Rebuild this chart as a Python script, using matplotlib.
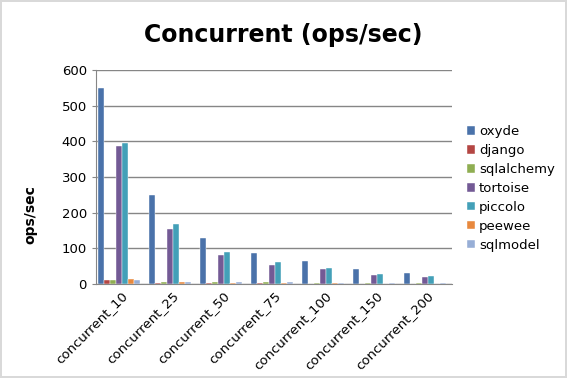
import matplotlib
matplotlib.use("Agg")
import matplotlib.pyplot as plt
import numpy as np

categories = ["concurrent_10", "concurrent_25", "concurrent_50", "concurrent_75",
              "concurrent_100", "concurrent_150", "concurrent_200"]
series_names = ["oxyde", "django", "sqlalchemy", "tortoise", "piccolo", "peewee", "sqlmodel"]
oxyde = [550, 250, 128, 86, 65, 43, 31]
django = [10, 3, 2, 2, 1, 1, 1]
sqlalchemy = [11, 4, 4, 4, 3, 2, 2]
tortoise = [388, 155, 80, 54, 41, 26, 20]
piccolo = [396, 168, 90, 60, 45, 28, 22]
peewee = [15, 5, 3, 3, 2, 1, 1]
sqlmodel = [10, 5, 4, 4, 3, 2, 2]
values = [oxyde, django, sqlalchemy, tortoise, piccolo, peewee, sqlmodel]
colors = ["#4A72AA", "#B44643", "#8FAE52", "#735A95", "#43A0B8", "#E8893E", "#97AED6"]

fig = plt.figure(figsize=(5.67, 3.78), dpi=100)
fig.patch.set_edgecolor("#D9D9D9")
fig.patch.set_linewidth(1.5)
ax = fig.add_axes([0.169, 0.249, 0.628, 0.566])

n = len(series_names)
x = np.arange(len(categories))
bw = 0.118
for i, (name, vals, c) in enumerate(zip(series_names, values, colors)):
    ax.bar(x - 0.5 + 0.05 + bw * (i + 0.5), vals, width=bw, color=c, label=name,
           edgecolor="white", linewidth=0.3)

ax.set_xlim(-0.5, len(categories) - 0.5)
ax.set_ylim(0, 600)
ax.set_yticks(range(0, 601, 100))
ax.yaxis.grid(True, color="#868686", linewidth=1)
ax.set_axisbelow(True)
for s in ["top", "right"]:
    ax.spines[s].set_visible(False)
for s in ["left", "bottom"]:
    ax.spines[s].set_color("#868686")
ax.tick_params(axis="y", length=3, color="#868686", labelsize=9.5)
ax.tick_params(axis="x", length=0, labelsize=9.5)
ax.set_xticks(x)
ax.set_xticklabels(categories, rotation=45, ha="right", rotation_mode="anchor")

fig.text(30 / 567, 1 - 215 / 378, "ops/sec", fontweight="bold", fontsize=10,
         rotation=90, ha="center", va="center")
fig.suptitle("Concurrent (ops/sec)", fontsize=17, fontweight="bold", x=0.5, y=0.94)

leg = ax.legend(loc="upper left", bbox_to_anchor=(1.017, 0.785), frameon=False,
                fontsize=9.5, handlelength=0.6, handleheight=0.6, handletextpad=0.3,
                labelspacing=0.45, borderaxespad=0.3)

fig.savefig("out.png", dpi=100)
